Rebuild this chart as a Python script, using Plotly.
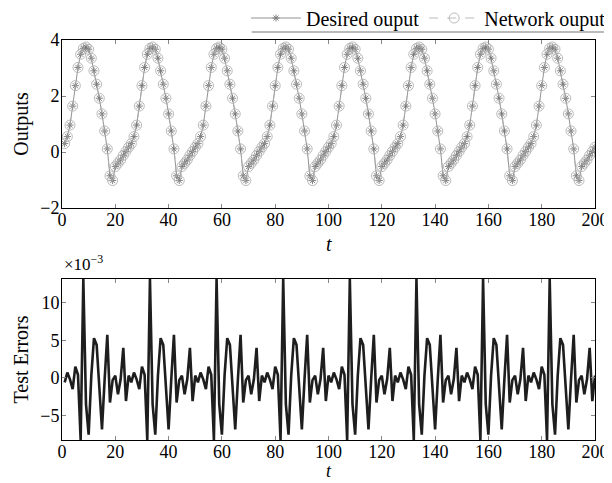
import plotly.graph_objects as go

# time steps
t_values = list(range(1, 201))

# desired output (8 periods of 25 samples)
desired_output = [
    0.30, 0.55, 0.96, 1.64, 2.37, 3.02, 3.49, 3.70, 3.75, 3.67, 3.35, 2.90, 2.42, 1.92, 1.36, 0.75, 0.11, -0.85, -1.02, -0.52, -0.40, -0.28, -0.12, 0.02, 0.17,
    0.30, 0.55, 0.96, 1.64, 2.37, 3.02, 3.49, 3.70, 3.75, 3.67, 3.35, 2.90, 2.42, 1.92, 1.36, 0.75, 0.11, -0.85, -1.02, -0.52, -0.40, -0.28, -0.12, 0.02, 0.17,
    0.30, 0.55, 0.96, 1.64, 2.37, 3.02, 3.49, 3.70, 3.75, 3.67, 3.35, 2.90, 2.42, 1.92, 1.36, 0.75, 0.11, -0.85, -1.02, -0.52, -0.40, -0.28, -0.12, 0.02, 0.17,
    0.30, 0.55, 0.96, 1.64, 2.37, 3.02, 3.49, 3.70, 3.75, 3.67, 3.35, 2.90, 2.42, 1.92, 1.36, 0.75, 0.11, -0.85, -1.02, -0.52, -0.40, -0.28, -0.12, 0.02, 0.17,
    0.30, 0.55, 0.96, 1.64, 2.37, 3.02, 3.49, 3.70, 3.75, 3.67, 3.35, 2.90, 2.42, 1.92, 1.36, 0.75, 0.11, -0.85, -1.02, -0.52, -0.40, -0.28, -0.12, 0.02, 0.17,
    0.30, 0.55, 0.96, 1.64, 2.37, 3.02, 3.49, 3.70, 3.75, 3.67, 3.35, 2.90, 2.42, 1.92, 1.36, 0.75, 0.11, -0.85, -1.02, -0.52, -0.40, -0.28, -0.12, 0.02, 0.17,
    0.30, 0.55, 0.96, 1.64, 2.37, 3.02, 3.49, 3.70, 3.75, 3.67, 3.35, 2.90, 2.42, 1.92, 1.36, 0.75, 0.11, -0.85, -1.02, -0.52, -0.40, -0.28, -0.12, 0.02, 0.17,
    0.30, 0.55, 0.96, 1.64, 2.37, 3.02, 3.49, 3.70, 3.75, 3.67, 3.35, 2.90, 2.42, 1.92, 1.36, 0.75, 0.11, -0.85, -1.02, -0.52, -0.40, -0.28, -0.12, 0.02, 0.17,
]

# network output (visually identical to the desired output)
network_output = [
    0.30, 0.55, 0.96, 1.64, 2.37, 3.02, 3.49, 3.70, 3.75, 3.67, 3.35, 2.90, 2.42, 1.92, 1.36, 0.75, 0.11, -0.85, -1.02, -0.52, -0.40, -0.28, -0.12, 0.02, 0.17,
    0.30, 0.55, 0.96, 1.64, 2.37, 3.02, 3.49, 3.70, 3.75, 3.67, 3.35, 2.90, 2.42, 1.92, 1.36, 0.75, 0.11, -0.85, -1.02, -0.52, -0.40, -0.28, -0.12, 0.02, 0.17,
    0.30, 0.55, 0.96, 1.64, 2.37, 3.02, 3.49, 3.70, 3.75, 3.67, 3.35, 2.90, 2.42, 1.92, 1.36, 0.75, 0.11, -0.85, -1.02, -0.52, -0.40, -0.28, -0.12, 0.02, 0.17,
    0.30, 0.55, 0.96, 1.64, 2.37, 3.02, 3.49, 3.70, 3.75, 3.67, 3.35, 2.90, 2.42, 1.92, 1.36, 0.75, 0.11, -0.85, -1.02, -0.52, -0.40, -0.28, -0.12, 0.02, 0.17,
    0.30, 0.55, 0.96, 1.64, 2.37, 3.02, 3.49, 3.70, 3.75, 3.67, 3.35, 2.90, 2.42, 1.92, 1.36, 0.75, 0.11, -0.85, -1.02, -0.52, -0.40, -0.28, -0.12, 0.02, 0.17,
    0.30, 0.55, 0.96, 1.64, 2.37, 3.02, 3.49, 3.70, 3.75, 3.67, 3.35, 2.90, 2.42, 1.92, 1.36, 0.75, 0.11, -0.85, -1.02, -0.52, -0.40, -0.28, -0.12, 0.02, 0.17,
    0.30, 0.55, 0.96, 1.64, 2.37, 3.02, 3.49, 3.70, 3.75, 3.67, 3.35, 2.90, 2.42, 1.92, 1.36, 0.75, 0.11, -0.85, -1.02, -0.52, -0.40, -0.28, -0.12, 0.02, 0.17,
    0.30, 0.55, 0.96, 1.64, 2.37, 3.02, 3.49, 3.70, 3.75, 3.67, 3.35, 2.90, 2.42, 1.92, 1.36, 0.75, 0.11, -0.85, -1.02, -0.52, -0.40, -0.28, -0.12, 0.02, 0.17,
]

# test errors, in units of 1e-3
test_errors = [
    -0.6, 0.7, -0.2, -1.5, 1.5, 0.4, -8.3, 13.2, -3.5, -7.6, 0.3, 5.3, 4.4, -1.5, -6.9, -0.2, 5.75, -3.3, -0.3, 0.3, -2.2, -0.2, 4.0, -3.1, 0.3,
    -0.6, 0.7, -0.2, -1.5, 1.5, 0.4, -8.3, 13.2, -3.5, -7.6, 0.3, 5.3, 4.4, -1.5, -6.9, -0.2, 5.75, -3.3, -0.3, 0.3, -2.2, -0.2, 4.0, -3.1, 0.3,
    -0.6, 0.7, -0.2, -1.5, 1.5, 0.4, -8.3, 13.2, -3.5, -7.6, 0.3, 5.3, 4.4, -1.5, -6.9, -0.2, 5.75, -3.3, -0.3, 0.3, -2.2, -0.2, 4.0, -3.1, 0.3,
    -0.6, 0.7, -0.2, -1.5, 1.5, 0.4, -8.3, 13.2, -3.5, -7.6, 0.3, 5.3, 4.4, -1.5, -6.9, -0.2, 5.75, -3.3, -0.3, 0.3, -2.2, -0.2, 4.0, -3.1, 0.3,
    -0.6, 0.7, -0.2, -1.5, 1.5, 0.4, -8.3, 13.2, -3.5, -7.6, 0.3, 5.3, 4.4, -1.5, -6.9, -0.2, 5.75, -3.3, -0.3, 0.3, -2.2, -0.2, 4.0, -3.1, 0.3,
    -0.6, 0.7, -0.2, -1.5, 1.5, 0.4, -8.3, 13.2, -3.5, -7.6, 0.3, 5.3, 4.4, -1.5, -6.9, -0.2, 5.75, -3.3, -0.3, 0.3, -2.2, -0.2, 4.0, -3.1, 0.3,
    -0.6, 0.7, -0.2, -1.5, 1.5, 0.4, -8.3, 13.2, -3.5, -7.6, 0.3, 5.3, 4.4, -1.5, -6.9, -0.2, 5.75, -3.3, -0.3, 0.3, -2.2, -0.2, 4.0, -3.1, 0.3,
    -0.6, 0.7, -0.2, -1.5, 1.5, 0.4, -8.3, 13.2, -3.5, -7.6, 0.3, 5.3, 4.4, -1.5, -6.9, -0.2, 5.75, -3.3, -0.3, 0.3, -2.2, -0.2, 4.0, -3.1, 0.3,
]

x_ticks = [0, 20, 40, 60, 80, 100, 120, 140, 160, 180, 200]
y1_ticks = [-2, 0, 2, 4]
y2_ticks = [-5, 0, 5, 10]

FONT = "Liberation Serif"

fig = go.Figure()
fig.add_trace(go.Scatter(
    x=t_values, y=desired_output, name="Desired ouput", mode="lines+markers",
    line=dict(color="#777777", width=0.8),
    marker=dict(symbol="asterisk-open", size=6, line=dict(color="#222222", width=0.9)),
    xaxis="x", yaxis="y"))
fig.add_trace(go.Scatter(
    x=t_values, y=network_output, name="Network ouput", mode="lines+markers",
    line=dict(color="#aaaaaa", width=0.8, dash="dash"),
    marker=dict(symbol="circle-open", size=10, line=dict(color="#707070", width=0.8)),
    xaxis="x", yaxis="y"))
fig.add_trace(go.Scatter(
    x=t_values, y=test_errors, mode="lines", showlegend=False,
    line=dict(color="#1e1e1e", width=2.6),
    xaxis="x2", yaxis="y2"))

axis_common = dict(showgrid=False, zeroline=False, showline=True, linecolor="black",
                   linewidth=1, mirror="allticks", ticks="inside", ticklen=4,
                   tickcolor="#888888", automargin=False,
                   tickfont=dict(family=FONT, size=18, color="black"))

# The page body adds an 8 px offset; margins compensate for it.
fig.update_layout(
    width=612, height=483,
    margin=dict(l=54, r=25, t=32, b=51, autoexpand=False),
    paper_bgcolor="white", plot_bgcolor="white",
    font=dict(family=FONT, size=18, color="black"),
    xaxis=dict(domain=[0, 1], range=[0, 200], tickvals=x_ticks, anchor="y",
               ticklabelstandoff=-5, **axis_common),
    yaxis=dict(domain=[0.58, 1], range=[-2, 4], tickvals=y1_ticks, anchor="x",
               ticklabelstandoff=-2,
               title=dict(text="Outputs", standoff=6, font=dict(family=FONT, size=20)),
               **axis_common),
    xaxis2=dict(domain=[0, 1], range=[0, 200], tickvals=x_ticks, anchor="y2",
                ticklabelstandoff=-5, **axis_common),
    yaxis2=dict(domain=[0, 0.4025], range=[-8.3, 13.2], tickvals=y2_ticks, anchor="x2",
                ticklabelstandoff=-2,
                title=dict(text="Test Errors", standoff=6, font=dict(family=FONT, size=20)),
                **axis_common),
    legend=dict(orientation="h", x=1.03, xanchor="right", y=1.055, yanchor="middle",
                font=dict(family=FONT, size=20), bgcolor="rgba(0,0,0,0)",
                itemwidth=50, tracegroupgap=0),
    shapes=[dict(type="line", xref="paper", yref="paper", x0=0.356, x1=1.05,
                 y0=1.02, y1=1.02, line=dict(color="#777777", width=1))],
    annotations=[
        dict(text="×10<sup>−3</sup>", xref="paper", yref="paper",
             x=0.0, y=0.4425, xanchor="left", yanchor="middle", showarrow=False,
             font=dict(family=FONT, size=17)),
        dict(text="<i>t</i>", xref="paper", yref="paper", x=0.5, y=0.49,
             xanchor="center", yanchor="middle", showarrow=False,
             font=dict(family=FONT, size=20)),
        dict(text="<i>t</i>", xref="paper", yref="paper", x=0.5, y=-0.078,
             xanchor="center", yanchor="middle", showarrow=False,
             font=dict(family=FONT, size=18)),
    ],
)

fig.write_html("out.html")
